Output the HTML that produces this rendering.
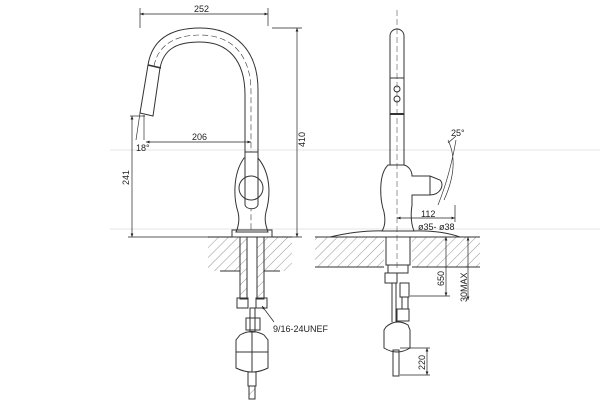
<!DOCTYPE html>
<html><head><meta charset="utf-8"><style>
html,body{margin:0;padding:0;background:#fff}
svg{display:block}
text{font-family:"Liberation Sans",sans-serif;font-size:9px;fill:#222}
</style></head><body>
<svg width="600" height="408" viewBox="0 0 600 408" xmlns="http://www.w3.org/2000/svg">
<defs>
<pattern id="h" width="7" height="7" patternUnits="userSpaceOnUse" patternTransform="rotate(45)">
<line x1="0" y1="0" x2="0" y2="7" stroke="#666" stroke-width="0.7"/></pattern>
<marker id="a" markerWidth="6" markerHeight="6" refX="5" refY="3" orient="auto-start-reverse"><path d="M0,1 L5,3 L0,5 z" fill="#222"/></marker>
</defs>
<g stroke="#ccc" stroke-width="0.6">
<line x1="110" y1="150" x2="600" y2="150"/>
<line x1="110" y1="229" x2="600" y2="229"/>
</g>
<!-- LEFT VIEW -->
<g fill="none" stroke="#333" stroke-width="1">
<rect x="208" y="237" width="32" height="34" fill="url(#h)" stroke="none"/>
<rect x="264" y="237" width="28" height="34" fill="url(#h)" stroke="none"/>
<line x1="208" y1="237" x2="292" y2="237"/>
<line x1="220" y1="271" x2="240" y2="271"/><line x1="264" y1="271" x2="280" y2="271"/>
<path d="M148,65 C152,40 170,28 200,28 C235,28 258,50 258,90 L258,152"/>
<path d="M160,68 C164,48 178,42 200,42 C228,42 245,60 245,95 L245,152"/>
<path d="M154,66 C158,45 175,35 200,35 C232,35 251,55 251,92 L251,232" stroke-dasharray="6,3" stroke-width="0.6"/>
<path d="M148,65 L140,113 L153,116 L160,68"/>
<line x1="148" y1="65" x2="161" y2="68" stroke-width="1.5"/>
<path d="M140,113 L136,140 M144,115 L144,140" stroke-width="0.7"/>
<path d="M244,158 C232,175 234,200 238,212 C240,220 238,228 236,232 L268,232 C266,226 264,220 266,212 C270,198 272,175 258,158 Z"/>
<path d="M245,152 L258,152 L258,205 C256,210 247,210 245,205 Z" fill="#fff"/>
<circle cx="251" cy="188" r="12"/>
<rect x="232" y="230" width="40" height="7"/>
<rect x="240" y="237" width="7" height="62" fill="url(#h)"/>
<rect x="257" y="237" width="7" height="62" fill="url(#h)"/>
<rect x="237" y="298" width="11" height="10"/><rect x="256" y="298" width="11" height="10"/>
<rect x="250" y="308" width="5" height="24"/>
<rect x="246" y="318" width="14" height="12"/>
<path d="M240,335 Q252,328 264,335 L268,340 L268,368 Q252,376 236,368 L236,340 Z"/>
<line x1="252" y1="332" x2="252" y2="372"/><line x1="236" y1="352" x2="268" y2="352"/>
<rect x="248" y="372" width="8" height="14"/>
<rect x="249" y="386" width="6" height="13" fill="url(#h)"/>
</g>
<g stroke="#222" stroke-width="0.7" fill="none">
<line x1="140" y1="8" x2="140" y2="28"/><line x1="268" y1="8" x2="268" y2="26"/>
<line x1="140" y1="14" x2="268" y2="14" marker-start="url(#a)" marker-end="url(#a)"/>
<line x1="272" y1="28" x2="302" y2="28"/><line x1="272" y1="237" x2="302" y2="237"/>
<line x1="297" y1="28" x2="297" y2="237" marker-start="url(#a)" marker-end="url(#a)"/>
<line x1="146" y1="142" x2="251" y2="142" marker-start="url(#a)" marker-end="url(#a)"/>
<line x1="130" y1="116" x2="145" y2="116"/><line x1="128" y1="237" x2="232" y2="237"/>
<line x1="132" y1="116" x2="132" y2="237" marker-start="url(#a)" marker-end="url(#a)"/>
<line x1="262" y1="306" x2="274" y2="322" marker-start="url(#a)"/>
</g>
<text x="194" y="12">252</text>
<text x="192" y="140">206</text>
<text x="136" y="151">18°</text>
<text x="273" y="332">9/16-24UNEF</text>
<text transform="translate(305,147) rotate(-90)">410</text>
<text transform="translate(129,185) rotate(-90)">241</text>
<!-- RIGHT VIEW -->
<g fill="none" stroke="#333" stroke-width="1">
<rect x="315" y="237" width="69" height="30" fill="url(#h)" stroke="none"/>
<rect x="412" y="237" width="68" height="30" fill="url(#h)" stroke="none"/>
<line x1="315" y1="237" x2="480" y2="237"/><line x1="315" y1="267" x2="384" y2="267"/><line x1="412" y1="267" x2="480" y2="267"/>
<path d="M330,237 Q360,230 384,231 M412,231 Q440,230 460,237"/>
<path d="M390,165 L390,36 A7,7 0 0 1 404,36 L404,165"/>
<line x1="397" y1="10" x2="397" y2="270" stroke-dasharray="6,3" stroke-width="0.5"/>
<line x1="390" y1="78" x2="404" y2="78"/><line x1="390" y1="114" x2="404" y2="114" stroke-width="2"/>
<circle cx="397" cy="89" r="3"/><circle cx="397" cy="99" r="3"/>
<path d="M388,165 C378,175 380,200 384,212 C386,222 384,228 382,231 L414,231 C412,226 410,218 412,205 L412,195 L430,195 C440,195 445,185 440,180 L430,176 L412,176 C412,170 408,166 404,165 Z"/>
<line x1="430" y1="176" x2="430" y2="195"/>
<path d="M448,140 Q460,165 444,200 M456,140 Q450,175 438,205" stroke-width="0.7"/>
<rect x="386" y="237" width="24" height="28"/>
<rect x="388" y="265" width="20" height="8"/><rect x="385" y="273" width="12" height="10"/>
<rect x="400" y="283" width="9" height="14"/><rect x="402" y="297" width="6" height="12"/>
<rect x="397" y="309" width="12" height="12"/>
<line x1="392" y1="283" x2="392" y2="322"/><line x1="396" y1="283" x2="396" y2="322"/>
<path d="M386,327 Q396,318 408,325 L410,330 L410,348 Q397,356 384,348 L384,330 Z"/>
<rect x="393" y="350" width="6" height="26"/>
</g>
<g stroke="#222" stroke-width="0.7" fill="none">
<line x1="397" y1="218" x2="455" y2="218" marker-start="url(#a)" marker-end="url(#a)"/>
<line x1="455" y1="205" x2="455" y2="222"/>
<line x1="448" y1="143" x2="456" y2="136"/>
<line x1="410" y1="296" x2="450" y2="296"/>
<line x1="446" y1="237" x2="446" y2="296" marker-start="url(#a)" marker-end="url(#a)"/>
<line x1="468" y1="237" x2="468" y2="300" marker-start="url(#a)" marker-end="url(#a)"/>
<line x1="400" y1="348" x2="430" y2="348"/><line x1="400" y1="375" x2="430" y2="375"/>
<line x1="427" y1="348" x2="427" y2="375" marker-start="url(#a)" marker-end="url(#a)"/>
</g>
<text x="451" y="136">25°</text>
<text x="421" y="217">112</text>
<text x="418" y="230">ø35- ø38</text>
<text transform="translate(444,286) rotate(-90)">650</text>
<text transform="translate(467,302) rotate(-90)">30MAX</text>
<text transform="translate(425,370) rotate(-90)">220</text>
</svg>
</body></html>
